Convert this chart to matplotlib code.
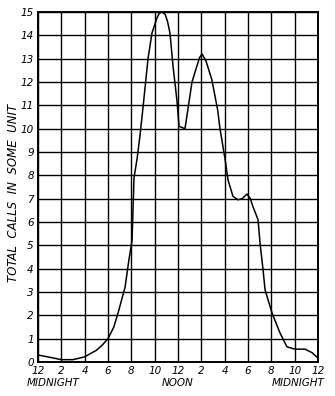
import matplotlib
matplotlib.use("Agg")
import matplotlib.pyplot as plt

# hours after midnight vs. total calls
hours = [0, 1.03, 2, 3, 4, 4.46, 5.0, 5.5, 6.0, 6.5, 6.86, 7.46, 7.8, 8.06,
         8.14, 8.23, 8.49, 8.74, 9.0, 9.43, 9.77, 10.2, 10.4, 10.63, 10.9,
         11.1, 11.31, 11.57, 11.91, 12.09, 12.6, 12.9, 13.2, 13.63, 13.85,
         14.06, 14.4, 14.9, 15.4, 15.6, 16.03, 16.29, 16.71, 17.14, 17.5,
         17.91, 18.2, 18.43, 18.86, 19.03, 19.29, 19.46, 20.06, 20.74, 21.34,
         22.03, 22.89, 23.49, 24.0]
calls = [0.3, 0.2, 0.1, 0.1, 0.22, 0.35, 0.5, 0.72, 1.0, 1.5, 2.1, 3.2, 4.4,
         5.2, 6.5, 7.9, 8.7, 9.7, 10.9, 13.0, 14.1, 14.75, 14.95, 15.0, 14.9,
         14.6, 14.1, 12.7, 11.2, 10.1, 10.0, 11.0, 12.0, 12.7, 13.05, 13.2,
         12.9, 12.1, 10.8, 10.0, 8.7, 7.8, 7.1, 6.95, 7.0, 7.2, 7.0, 6.65,
         6.1, 5.1, 3.95, 3.1, 2.1, 1.25, 0.65, 0.55, 0.55, 0.4, 0.17]

xtick_pos = list(range(0, 25, 2))
xtick_labels = ["12", "2", "4", "6", "8", "10", "12", "2", "4", "6", "8", "10", "12"]
ytick_pos = list(range(0, 16))
period_labels = [(1.3, "MIDNIGHT"), (12, "NOON"), (22.3, "MIDNIGHT")]

fig = plt.figure(figsize=(3.35, 3.96), dpi=100)
ax = fig.add_axes([38 / 335, 1 - 362 / 396, 280 / 335, 350 / 396])

ax.plot(hours, calls, color="black", lw=1.1, zorder=3)

ax.set_xlim(0, 24)
ax.set_ylim(0, 15)
for h in xtick_pos:
    ax.axvline(h, color="black", lw=1.0, zorder=1)
for v in ytick_pos:
    ax.axhline(v, color="black", lw=1.0, zorder=1)
for s in ax.spines.values():
    s.set_linewidth(1.4)

font = dict(family="DejaVu Sans", style="italic", fontsize=7.5)
ax.set_xticks(xtick_pos)
ax.set_xticklabels(xtick_labels, **font)
ax.set_yticks(ytick_pos)
ax.set_yticklabels([str(v) for v in ytick_pos], **font)
ax.tick_params(length=0, pad=3)

for x, txt in period_labels:
    ax.text(x, -0.7, txt, ha="center", va="top", **font)

ax.set_ylabel("TOTAL  CALLS  IN  SOME  UNIT", family="DejaVu Sans",
              style="italic", fontsize=8.5)
ax.yaxis.set_label_coords(-0.066, 0.483)

fig.savefig("out.png", dpi=100)
